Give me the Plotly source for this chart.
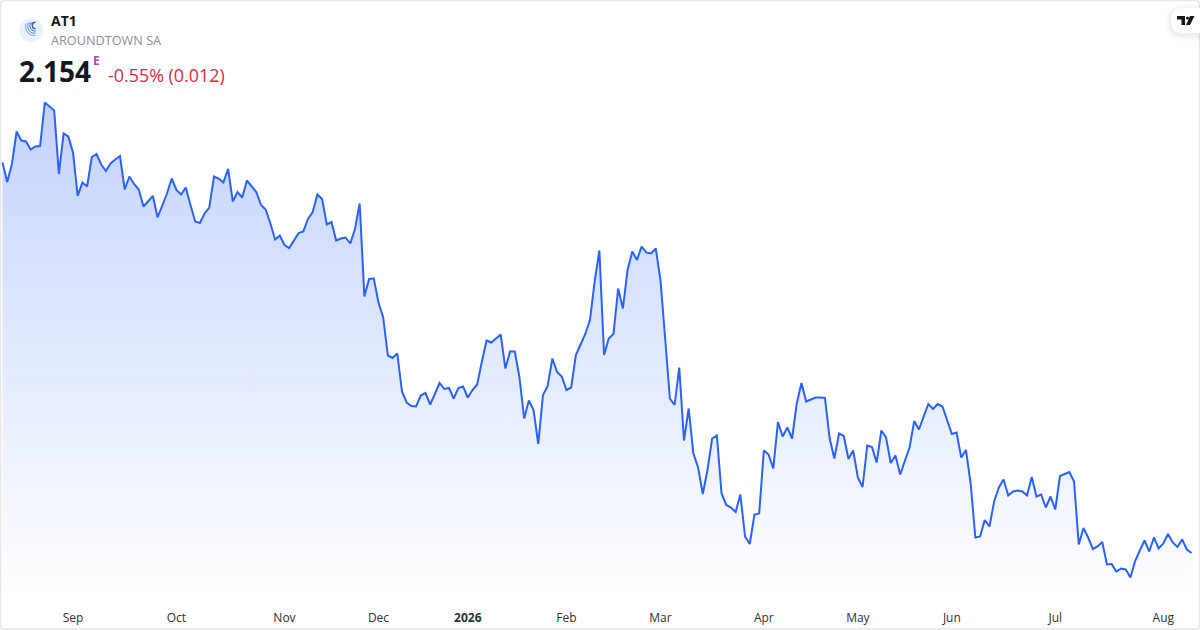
import pandas as pd
import plotly.graph_objects as go

closed_days = ["2025-12-24", "2025-12-25", "2025-12-26", "2025-12-31", "2026-01-01", "2026-04-03", "2026-04-06", "2026-05-01"]
dates = [d.strftime("%Y-%m-%d") for d in pd.bdate_range("2025-08-11", "2026-08-11") if d.strftime("%Y-%m-%d") not in closed_days]

prices = [
 2.935,2.896,2.932,2.997,2.979,2.977,2.961,2.967,2.968,3.055,3.047,3.039,2.912,2.993,2.987,2.955,2.868,2.895,2.887,2.946,
 2.952,2.931,2.918,2.933,2.941,2.948,2.881,2.907,2.892,2.881,2.847,2.857,2.868,2.825,2.849,2.873,2.903,2.880,2.871,2.885,
 2.850,2.817,2.814,2.833,2.845,2.907,2.903,2.895,2.922,2.857,2.876,2.865,2.899,2.888,2.876,2.850,2.841,2.813,2.781,2.789,
 2.770,2.764,2.780,2.794,2.797,2.822,2.836,2.871,2.862,2.811,2.816,2.779,2.783,2.785,2.773,2.802,2.853,
 2.667,2.702,2.703,2.655,2.625,2.549,2.544,2.553,2.477,2.455,2.448,2.447,2.469,2.474,2.451,2.472,2.494,2.482,2.484,2.463,
 2.484,2.487,2.465,2.480,2.491,2.537,2.579,2.575,2.583,2.591,2.523,2.557,2.557,2.505,2.423,2.459,2.440,2.372,2.470,2.488,
 2.543,2.516,2.507,2.480,2.485,2.550,2.571,2.592,2.620,2.697,2.759,2.550,2.583,2.592,2.683,2.643,2.720,2.757,2.740,2.767,
 2.755,2.753,2.763,2.700,2.583,2.463,2.450,2.525,2.379,2.443,2.353,2.325,2.272,2.320,2.383,2.389,2.273,2.250,2.245,2.236,
 2.271,2.187,2.172,2.231,2.233,2.359,2.351,2.323,2.416,2.387,2.405,2.383,2.453,2.494,2.457,2.461,2.465,2.465,2.464,2.383,
 2.343,2.393,2.388,2.342,2.359,2.305,2.286,2.369,2.366,2.335,2.399,2.385,2.334,2.349,2.311,2.338,2.365,2.418,2.401,2.427,
 2.452,2.442,2.452,2.447,2.419,2.392,2.395,2.345,2.360,2.293,2.185,2.187,2.220,2.207,2.257,2.285,2.301,2.269,2.277,2.279,
 2.277,2.269,2.306,2.267,2.271,2.245,2.267,2.241,2.308,2.312,2.316,2.297,2.171,2.204,2.185,2.162,2.167,2.176,2.131,2.132,
 2.117,2.123,2.121,2.105,2.138,2.159,2.179,2.157,2.185,2.163,2.173,2.192,2.175,2.166,2.181,2.161,2.154,
]
tick_dates = ["2025-09-01","2025-10-01","2025-11-03","2025-12-01","2026-01-02","2026-02-02","2026-03-02","2026-04-01","2026-05-04","2026-06-01","2026-07-01","2026-08-03"]
tick_labels = ["Sep","Oct","Nov","Dec","<b>2026</b>","Feb","Mar","Apr","May","Jun","Jul","Aug"]

W, H = 1200, 630
FONT = "Open Sans"
def px(x): return x / W
def py(y): return 1 - y / H

fig = go.Figure(go.Scatter(
    x=dates, y=prices, mode="lines",
    line=dict(color="#2962FF", width=2, shape="linear"),
    fill="tozeroy", fillcolor="rgba(41,98,255,0.1)",
    fillgradient=dict(type="vertical", start=2.06, stop=3.056,
                      colorscale=[[0, "rgba(41,98,255,0.0)"], [1, "rgba(41,98,255,0.28)"]]),
    hoverinfo="x+y",
))

def note(x, y, text, size, color, anchor="left"):
    return dict(xref="paper", yref="paper", x=px(x), y=py(y), text=text, showarrow=False, xanchor=anchor, yanchor="middle",
                align="left", font=dict(family=FONT, size=size, color=color))

annotations = [
    note(49, 21, "<b>AT1</b>", 14, "#131722"),
    note(49, 40.5, "AROUNDTOWN SA", 12.7, "#8a8e99"),
    note(17, 71, "<b>2.154</b>", 28, "#131722"),
    note(91, 61, "<b>E</b>", 12, "#ab47bc"),
    note(106, 74.5, "-0.55% (0.012)", 17.9, "#e0284a"),
]

shapes = [
    dict(type="path", xref="paper", yref="paper", layer="above", line=dict(color="#e6e6e6", width=1.5),
         path=f"M {px(4)} {py(.5)} L {px(1196)} {py(.5)} Q {px(1199.5)} {py(.5)} {px(1199.5)} {py(4)} L {px(1199.5)} {py(625.5)} Q {px(1199.5)} {py(629)} {px(1196)} {py(629)} L {px(4)} {py(629)} Q {px(.5)} {py(629)} {px(.5)} {py(625.5)} L {px(.5)} {py(4)} Q {px(.5)} {py(.5)} {px(4)} {py(.5)} Z"),
    dict(type="circle", xref="paper", yref="paper", x0=px(19), x1=px(43), y0=py(42), y1=py(18),
         fillcolor="#ebf0fb", line=dict(width=0), layer="above"),
]
for (r, lift, col, w) in [(3.2, 1.0, "#2f5fb8", 1.4), (5.6, .5, "#3f78cf", 1), (7.8, .35, "#5b93de", 1), (10, .2, "#78a9e8", 1)]:
    cx, cy = 35.5, 25.5
    shapes.append(dict(type="path", xref="paper", yref="paper", layer="above", line=dict(color=col, width=w),
                       path=f"M {px(cx - r*(1-lift))} {py(cy - r*lift)} Q {px(cx-r)} {py(cy - r*lift)} {px(cx-r)} {py(cy)} Q {px(cx-r)} {py(cy+r)} {px(cx)} {py(cy+r)}"))

for grow, alpha in [(6, .015), (4, .02), (2, .03)]:
    shapes.append(dict(type="path", xref="paper", yref="paper", layer="above", fillcolor=f"rgba(19,23,34,{alpha})", line=dict(width=0),
                       path=f"M {px(1200)} {py(8-grow+2)} L {px(1183)} {py(8-grow+2)} Q {px(1171-grow)} {py(8-grow+2)} {px(1171-grow)} {py(21+2)} Q {px(1171-grow)} {py(33+grow+2)} {px(1183)} {py(33+grow+2)} L {px(1200)} {py(33+grow+2)} Z"))
shapes += [
    dict(type="path", xref="paper", yref="paper", layer="above", fillcolor="#ffffff", line=dict(width=0),
         path=f"M {px(1200)} {py(8)} L {px(1183)} {py(8)} Q {px(1171)} {py(8)} {px(1171)} {py(21)} Q {px(1171)} {py(33)} {px(1183)} {py(33)} L {px(1200)} {py(33)} Z"),
    dict(type="path", xref="paper", yref="paper", layer="above", fillcolor="#131722", line=dict(width=0),
         path=f"M {px(1177)} {py(16)} L {px(1185)} {py(16)} L {px(1185)} {py(25)} L {px(1181.5)} {py(25)} L {px(1181.5)} {py(19.5)} L {px(1177)} {py(19.5)} Z"),
    dict(type="circle", xref="paper", yref="paper", layer="above", fillcolor="#131722", line=dict(width=0),
         x0=px(1186), x1=px(1189), y0=py(19.5), y1=py(16.5)),
    dict(type="path", xref="paper", yref="paper", layer="above", fillcolor="#131722", line=dict(width=0),
         path=f"M {px(1190)} {py(16)} L {px(1194.5)} {py(16)} L {px(1190)} {py(25)} L {px(1186)} {py(25)} Z"),
]

fig.update_layout(
    width=W, height=H, showlegend=False, paper_bgcolor="#ffffff", plot_bgcolor="#ffffff",
    margin=dict(l=0, r=0, t=0, b=0, pad=0),
    xaxis=dict(type="category", range=[-0.532, 254.8], showgrid=False, zeroline=False, showline=False,
               tickmode="array", tickvals=tick_dates, ticktext=tick_labels, ticks="outside", ticklen=7,
               tickcolor="rgba(0,0,0,0)", tickangle=0, automargin=False,
               tickfont=dict(family=FONT, size=12, color="#2e3138")),
    yaxis=dict(range=[2.06, 3.26], domain=[30/630, 1], visible=False, showgrid=False, zeroline=False),
    annotations=annotations, shapes=shapes, hovermode="x",
)
fig.write_html("out.html", config=dict(displayModeBar=False),
               post_script="document.body.style.margin='0';document.body.style.overflow='hidden';")
